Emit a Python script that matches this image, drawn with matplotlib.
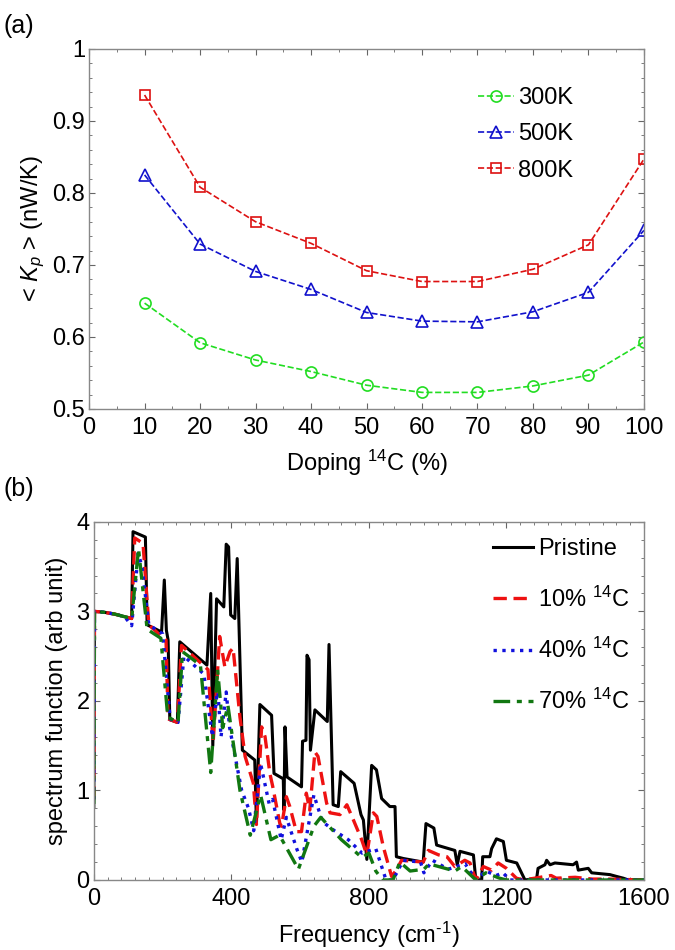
import matplotlib
matplotlib.use("Agg")
import matplotlib.pyplot as plt
from matplotlib.ticker import MultipleLocator

plt.rcParams['font.family'] = ['Liberation Sans', 'DejaVu Sans']
plt.rcParams['mathtext.fontset'] = 'custom'
plt.rcParams['mathtext.rm'] = 'Liberation Sans'
plt.rcParams['mathtext.it'] = 'Liberation Sans:italic'

# (a) conductancia media vs dopaje
doping = [10, 20, 30, 40, 50, 60, 70, 80, 90, 100]
k_300 = [0.647, 0.592, 0.568, 0.552, 0.533, 0.523, 0.523, 0.532, 0.547, 0.593]
k_500 = [0.825, 0.729, 0.691, 0.666, 0.634, 0.622, 0.621, 0.635, 0.662, 0.748]
k_800 = [0.936, 0.808, 0.760, 0.730, 0.692, 0.677, 0.677, 0.694, 0.728, 0.847]

# (b) funcion espectral
f_pri = [0, 2, 30, 60, 90, 110, 114, 150, 155, 197, 205, 211, 216, 221, 243, 250, 329, 340, 346,
         357, 378, 385, 392, 398, 410, 417, 432, 468, 473, 483, 517, 524, 551, 553, 556, 562, 604,
         607, 617, 620, 626, 630, 643, 679, 684, 696, 711, 718, 757, 777, 784, 794, 808, 822, 837,
         861, 876, 880, 900, 958, 966, 989, 997, 1050, 1057, 1065, 1104, 1111, 1128, 1131, 1152,
         1157, 1171, 1191, 1200, 1230, 1254, 1288, 1292, 1312, 1317, 1327, 1341, 1394, 1404, 1409,
         1438, 1448, 1501, 1520, 1540, 1555, 1600]
s_pri = [0.82, 3.0, 2.99, 2.97, 2.94, 2.92, 3.89, 3.83, 2.85, 2.77, 3.35, 2.79, 2.68, 1.79, 1.76,
         2.66, 2.40, 3.20, 1.50, 3.14, 3.05, 3.75, 3.72, 2.96, 2.92, 3.59, 1.45, 1.34, 0.63, 1.96,
         1.84, 1.19, 1.13, 0.78, 1.71, 1.15, 1.04, 1.55, 1.56, 2.51, 2.46, 1.45, 1.90, 1.77, 2.63,
         0.84, 0.82, 1.21, 1.08, 0.73, 0.67, 0.23, 1.28, 1.23, 0.91, 0.82, 0.82, 0.26, 0.24, 0.20,
         0.63, 0.58, 0.39, 0.33, 0.17, 0.32, 0.28, 0.0, 0.0, 0.26, 0.26, 0.35, 0.46, 0.43, 0.22,
         0.19, 0.0, 0.02, 0.13, 0.17, 0.22, 0.17, 0.19, 0.17, 0.20, 0.11, 0.13, 0.08, 0.06, 0.04,
         0.02, 0.0, 0.0]

f_10 = [0, 2, 30, 60, 90, 110, 119, 143, 160, 197, 210, 216, 243, 255, 332, 347, 366, 381, 396,
        405, 425, 440, 464, 473, 488, 498, 512, 520, 541, 546, 560, 570, 589, 604, 618, 628, 643,
        652, 677, 687, 716, 736, 755, 779, 794, 813, 823, 842, 866, 880, 895, 958, 973, 1003, 1027,
        1050, 1079, 1094, 1111, 1133, 1157, 1176, 1200, 1229, 1250, 1330, 1345, 1400, 1450, 1500,
        1600]
s_10 = [0.9, 3.0, 2.99, 2.97, 2.94, 2.92, 3.82, 3.76, 2.85, 2.72, 2.68, 1.80, 1.76, 2.62, 2.35,
        1.53, 2.72, 2.38, 2.55, 2.59, 1.82, 1.38, 1.08, 0.62, 1.71, 1.60, 1.19, 1.05, 0.63, 0.60,
        0.93, 0.82, 0.54, 0.54, 0.97, 0.78, 1.43, 1.38, 0.86, 0.75, 0.73, 0.84, 0.67, 0.45, 0.28,
        0.75, 0.71, 0.37, 0.04, 0.11, 0.22, 0.20, 0.33, 0.28, 0.26, 0.15, 0.22, 0.19, 0.0, 0.15,
        0.11, 0.19, 0.13, 0.02, 0.0, 0.05, 0.02, 0.03, 0.01, 0.01, 0.0]

f_40 = [0, 2, 30, 60, 90, 110, 129, 140, 160, 200, 222, 245, 262, 320, 345, 360, 370, 385, 395,
        430, 450, 465, 485, 510, 520, 545, 560, 590, 605, 640, 665, 700, 740, 780, 820, 850, 870,
        900, 950, 960, 985, 1030, 1080, 1111, 1140, 1170, 1190, 1210, 1600]
s_40 = [0.9, 3.0, 2.99, 2.97, 2.94, 2.84, 3.65, 3.50, 2.85, 2.75, 1.80, 1.76, 2.50, 2.30, 1.60,
        2.15, 1.60, 2.10, 1.70, 1.00, 0.80, 0.55, 1.30, 0.85, 0.90, 0.45, 0.70, 0.35, 0.20, 0.95,
        0.65, 0.55, 0.45, 0.30, 0.35, 0.0, 0.0, 0.22, 0.20, 0.08, 0.22, 0.12, 0.18, 0.0, 0.10,
        0.05, 0.08, 0.0, 0.0]

f_70 = [0, 2, 30, 60, 90, 110, 130, 155, 195, 215, 245, 258, 310, 340, 360, 375, 390, 425, 455,
        485, 515, 540, 595, 640, 660, 720, 780, 800, 820, 840, 870, 890, 920, 960, 975, 1050, 1070,
        1111, 1140, 1180, 1200, 1600]
s_70 = [0.85, 3.0, 2.99, 2.97, 2.94, 2.92, 3.70, 2.80, 2.70, 1.82, 1.76, 2.55, 2.40, 1.20, 2.35,
        1.70, 1.95, 1.00, 0.50, 0.95, 0.45, 0.50, 0.12, 0.60, 0.70, 0.45, 0.25, 0.30, 0.10, 0.0,
        0.0, 0.20, 0.10, 0.12, 0.18, 0.10, 0.15, 0.0, 0.08, 0.02, 0.0, 0.0]

fs = 17
fig = plt.figure(figsize=(6.75, 9.5), dpi=100)

def estilo(ax):
    for s in ax.spines.values():
        s.set_color('#888888')
        s.set_linewidth(1.0)
    ax.tick_params(which='both', direction='in', top=True, right=True, labelsize=fs,
                   color='#666666')
    ax.tick_params(axis='x', pad=6)
    ax.tick_params(axis='y', pad=3)
    ax.tick_params(which='major', length=4)
    ax.tick_params(which='minor', length=2)

# panel (a)
ax1 = fig.add_axes([0.132, 0.5695, 0.822, 0.379])
ax1.plot(doping, k_300, '--o', color='#22dd22', lw=1.2, ms=8, mfc='none', mew=1.2, label='300K')
ax1.plot(doping, k_500, '--^', color='#1111cc', lw=1.2, ms=8, mfc='none', mew=1.2, label='500K')
ax1.plot(doping, k_800, '--s', color='#dd1111', lw=1.2, ms=7, mfc='none', mew=1.2, label='800K')
ax1.set_xlim(0, 100)
ax1.set_ylim(0.5, 1.0)
ax1.xaxis.set_major_locator(MultipleLocator(10))
ax1.xaxis.set_minor_locator(MultipleLocator(5))
ax1.yaxis.set_minor_locator(MultipleLocator(0.02))
ax1.yaxis.set_ticks([0.5, 0.6, 0.7, 0.8, 0.9, 1.0])
ax1.set_yticklabels(['0.5', '0.6', '0.7', '0.8', '0.9', '1'])
estilo(ax1)
ax1.set_xlabel(r'Doping $^{14}$C (%)', fontsize=fs, labelpad=6)
ax1.set_ylabel(r'< $K_p$ > (nW/K)', fontsize=fs, labelpad=4)
ax1.legend(loc='upper right', bbox_to_anchor=(0.89, 0.92), frameon=False, fontsize=fs,
           handlelength=1.5, handletextpad=0.2, labelspacing=0.6, borderaxespad=0)
fig.text(0.005, 0.985, '(a)', fontsize=fs + 1, va='top', ha='left')

# panel (b)
ax2 = fig.add_axes([0.139, 0.0737, 0.815, 0.377])
ax2.plot(f_pri, s_pri, '-', color='black', lw=2.2, label='Pristine')
ax2.plot(f_10, s_10, '--', color='#ee1111', lw=2.4, dashes=(4, 2), label=r'10% $^{14}$C')
ax2.plot(f_40, s_40, ':', color='#1111dd', lw=2.4, label=r'40% $^{14}$C')
ax2.plot(f_70, s_70, '-.', color='#117711', lw=2.4, dashes=(5, 2, 1.5, 2), label=r'70% $^{14}$C')
ax2.set_xlim(0, 1600)
ax2.set_ylim(0, 4)
ax2.xaxis.set_major_locator(MultipleLocator(400))
ax2.xaxis.set_minor_locator(MultipleLocator(40))
ax2.yaxis.set_major_locator(MultipleLocator(1))
ax2.yaxis.set_minor_locator(MultipleLocator(0.2))
estilo(ax2)
ax2.set_xlabel(r'Frequency (cm$^{\text{-1}}$)', fontsize=fs, labelpad=7)
ax2.set_ylabel('spectrum function (arb unit)', fontsize=fs, labelpad=6)
ax2.legend(loc='upper right', bbox_to_anchor=(0.99, 0.98), frameon=False, fontsize=fs,
           handlelength=1.7, handletextpad=0.2, labelspacing=1.1, borderaxespad=0)
fig.text(0.005, 0.498, '(b)', fontsize=fs + 1, va='top', ha='left')

fig.savefig('out.png', dpi=100)
